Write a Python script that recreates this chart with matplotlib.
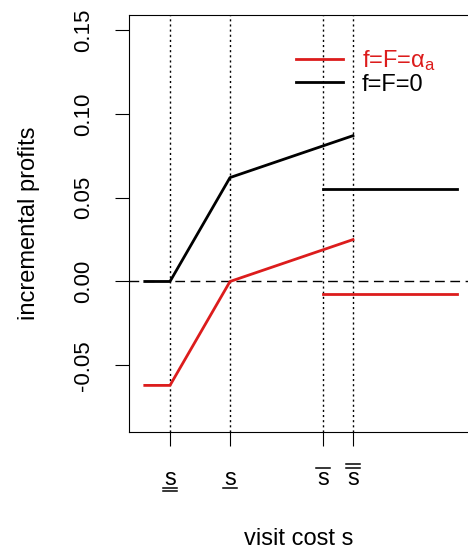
import matplotlib
matplotlib.use('Agg')
import matplotlib.pyplot as plt

plt.rcParams['font.family'] = ['Liberation Sans', 'DejaVu Sans']
plt.rcParams['axes.unicode_minus'] = False
plt.rcParams['mathtext.fontset'] = 'custom'
plt.rcParams['mathtext.rm'] = 'Liberation Sans'
plt.rcParams['mathtext.it'] = 'Liberation Sans'

# thresholds of the visit cost (arbitrary units)
s_ticks = [1.0, 2.0, 3.55, 4.05]
# number of under / over bars on each "s" label
s_under = [2, 1, 0, 0]
s_over = [0, 0, 1, 2]

# incremental profits, f=F=alpha_a (red) and f=F=0 (black)
x_low = [0.58, 1.0, 2.0, 4.05]
red_low = [-0.062, -0.062, 0.0, 0.025]
black_low = [0.0, 0.0, 0.062, 0.087]

x_high = [3.55, 5.78]
red_high = [-0.0075, -0.0075]
black_high = [0.055, 0.055]

red = '#dc1c1c'

fig = plt.figure(figsize=(4.68, 5.55), dpi=100)
ax = fig.add_axes([129 / 468, 123 / 555, 340 / 468, 417 / 555])

for s in s_ticks:
    ax.axvline(s, color='black', lw=1, ls=(0, (1.5, 2.2)))
ax.axhline(0, color='black', lw=1, ls=(0, (7, 4)))

ax.plot(x_low, red_low, color=red, lw=2, label='f=F=$\\alpha_a$')
ax.plot(x_low, black_low, color='black', lw=2, label='f=F=0')
ax.plot(x_high, red_high, color=red, lw=2)
ax.plot(x_high, black_high, color='black', lw=2)

ax.set_xlim(0.317, 5.983)
ax.set_ylim(-0.0898, 0.159)

ax.set_yticks([-0.05, 0.0, 0.05, 0.10, 0.15])
ax.set_yticklabels(['-0.05', '0.00', '0.05', '0.10', '0.15'], rotation=90, va='center')
ax.set_xticks(s_ticks)
ax.set_xticklabels([])
ax.tick_params(length=10, width=0.8, labelsize=16, pad=15)
ax.spines['right'].set_visible(False)
for sp in ['left', 'bottom', 'top']:
    ax.spines[sp].set_linewidth(0.8)

# "s" tick labels with under / over bars (axes height is 417 px)
trans = ax.get_xaxis_transform()
px = 1 / 417
half = 0.115
for s, nu, no in zip(s_ticks, s_under, s_over):
    base = -(485 - 432) * px
    ax.text(s, base, 's', transform=trans, ha='center', va='baseline',
            fontsize=17, clip_on=False)
    for k in range(nu):
        y = -(488 - 432 + 2.5 * k) * px
        ax.plot([s - half, s + half], [y, y], transform=trans, color='black',
                lw=1.1, clip_on=False)
    for k in range(no):
        y = -(468 - 432 - 4 * k) * px
        ax.plot([s - half, s + half], [y, y], transform=trans, color='black',
                lw=1.1, clip_on=False)

ax.set_xlabel('visit cost s', fontsize=17, va='center')
ax.xaxis.set_label_coords(0.5, -(539 - 432) * px)
ax.set_ylabel('incremental profits', fontsize=17, labelpad=24)

leg = ax.legend(loc='upper left', bbox_to_anchor=(0.49, 0.921), frameon=False,
                fontsize=17, handlelength=2.0, handletextpad=0.8,
                labelspacing=0.03, borderpad=0, borderaxespad=0)
leg.get_texts()[0].set_color(red)

fig.savefig('out.png', dpi=100)
